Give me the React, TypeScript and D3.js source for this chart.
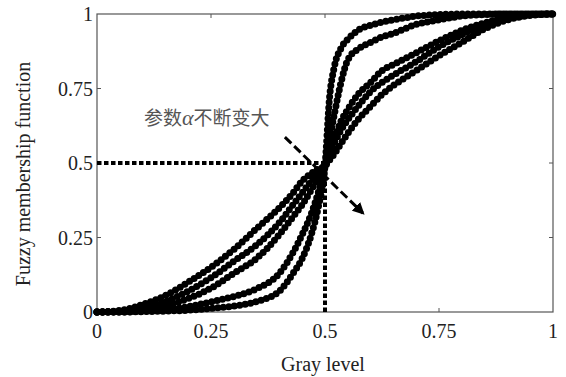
import {useEffect, useRef} from "react";
import * as d3 from "d3";

// gray level samples shared by every curve
const grayLevels = [0, 0.05, 0.1, 0.15, 0.2, 0.25, 0.3, 0.35, 0.4, 0.43, 0.45, 0.47, 0.485, 0.5,
    0.51, 0.52, 0.535, 0.55, 0.575, 0.6, 0.625, 0.65, 0.7, 0.75, 0.8, 0.85, 0.9, 0.95, 1];

// membership values, alpha growing from curveA to curveE
const curveA = [0, 0.005, 0.025, 0.055, 0.1, 0.15, 0.21, 0.28, 0.35, 0.4, 0.44, 0.465, 0.48, 0.49,
    0.51, 0.53, 0.565, 0.6, 0.65, 0.69, 0.73, 0.76, 0.81, 0.86, 0.905, 0.95, 0.98, 0.995, 1];
const curveB = [0, 0.002, 0.012, 0.035, 0.07, 0.115, 0.17, 0.225, 0.3, 0.36, 0.4, 0.44, 0.465, 0.49,
    0.53, 0.565, 0.61, 0.645, 0.695, 0.74, 0.77, 0.795, 0.84, 0.89, 0.93, 0.965, 0.985, 0.997, 1];
const curveC = [0, 0.001, 0.005, 0.02, 0.045, 0.08, 0.13, 0.18, 0.26, 0.32, 0.36, 0.41, 0.45, 0.49,
    0.54, 0.58, 0.64, 0.68, 0.735, 0.77, 0.81, 0.83, 0.87, 0.91, 0.945, 0.97, 0.99, 0.998, 1];
const curveD = [0, 0, 0.003, 0.008, 0.018, 0.034, 0.052, 0.078, 0.13, 0.2, 0.26, 0.33, 0.4, 0.49,
    0.58, 0.66, 0.77, 0.846, 0.885, 0.905, 0.923, 0.935, 0.965, 0.98, 0.993, 0.998, 1, 1, 1];
const curveE = [0, 0, 0.001, 0.003, 0.006, 0.012, 0.02, 0.035, 0.07, 0.13, 0.18, 0.26, 0.35, 0.49,
    0.72, 0.82, 0.885, 0.915, 0.948, 0.962, 0.973, 0.98, 0.993, 0.998, 1, 1, 1, 1, 1];

const series = [curveA, curveB, curveC, curveD, curveE];
const tickValues = [0, 0.25, 0.5, 0.75, 1];
const tickLabels = ["0", "0.25", "0.5", "0.75", "1"];

// annotation: crossing guide and the arrow (data coords)
const guidePoint = [0.5, 0.5];
const arrowFrom = [0.412, 0.587];
const arrowTo = [0.583, 0.332];

export default function App() {
    const ref = useRef<SVGSVGElement>(null);

    useEffect(() => {
        const svg = d3.select(ref.current);
        svg.selectAll("*").remove();

        const width = 566, height = 377;
        const left = 97, right = 553, top = 14, bottom = 312;
        svg.attr("width", width).attr("height", height);

        const x = d3.scaleLinear().domain([0, 1]).range([left, right]);
        const y = d3.scaleLinear().domain([0, 1]).range([bottom, top]);

        const defs = svg.append("defs");
        defs.append("marker")
            .attr("id", "head")
            .attr("viewBox", "0 0 10 10")
            .attr("refX", 8).attr("refY", 5)
            .attr("markerWidth", 4).attr("markerHeight", 4)
            .attr("orient", "auto")
            .append("path").attr("d", "M0,0 L10,5 L0,10 z").attr("fill", "#000");

        // frame
        svg.append("rect")
            .attr("x", left).attr("y", top)
            .attr("width", right - left).attr("height", bottom - top)
            .attr("fill", "none").attr("stroke", "#555").attr("stroke-width", 1.2);

        // inward ticks on all four sides
        const tk = 4;
        tickValues.slice(1, -1).forEach(v => {
            svg.append("line").attr("x1", x(v)).attr("x2", x(v)).attr("y1", bottom).attr("y2", bottom - tk).attr("stroke", "#555");
            svg.append("line").attr("x1", x(v)).attr("x2", x(v)).attr("y1", top).attr("y2", top + tk).attr("stroke", "#555");
            svg.append("line").attr("x1", left).attr("x2", left + tk).attr("y1", y(v)).attr("y2", y(v)).attr("stroke", "#555");
            svg.append("line").attr("x1", right).attr("x2", right - tk).attr("y1", y(v)).attr("y2", y(v)).attr("stroke", "#555");
        });

        const font = "'Liberation Serif', 'Times New Roman', serif";
        tickValues.forEach((v, i) => {
            svg.append("text")
                .attr("x", x(v)).attr("y", bottom + 26)
                .attr("text-anchor", "middle")
                .attr("font-family", font).attr("font-size", 20).attr("fill", "#222")
                .text(tickLabels[i]);
            svg.append("text")
                .attr("x", left - 4).attr("y", y(v)).attr("dy", "0.35em")
                .attr("text-anchor", "end")
                .attr("font-family", font).attr("font-size", 20).attr("fill", "#222")
                .text(tickLabels[i]);
        });

        svg.append("text")
            .attr("x", 323).attr("y", 371)
            .attr("text-anchor", "middle")
            .attr("font-family", font).attr("font-size", 20).attr("fill", "#222")
            .text("Gray level");

        svg.append("text")
            .attr("transform", `translate(30,174) rotate(-90)`)
            .attr("text-anchor", "middle")
            .attr("font-family", font).attr("font-size", 20).attr("fill", "#222")
            .text("Fuzzy membership function");

        // dotted guides at 0.5
        const guide = {stroke: "#000", width: 4, dash: "4.5 2.5"};
        svg.append("line")
            .attr("x1", x(0)).attr("x2", x(guidePoint[0]))
            .attr("y1", y(guidePoint[1])).attr("y2", y(guidePoint[1]))
            .attr("stroke", guide.stroke).attr("stroke-width", guide.width).attr("stroke-dasharray", guide.dash);
        svg.append("line")
            .attr("x1", x(guidePoint[0])).attr("x2", x(guidePoint[0]))
            .attr("y1", y(0)).attr("y2", y(guidePoint[1]))
            .attr("stroke", guide.stroke).attr("stroke-width", guide.width).attr("stroke-dasharray", guide.dash);

        // curves drawn as chains of dots
        const line = d3.line<number>()
            .x((d, i) => x(grayLevels[i]))
            .y(d => y(d))
            .curve(d3.curveMonotoneX);

        const g = svg.append("g");
        series.forEach(s => {
            g.append("path").attr("d", line(s)).attr("fill", "none")
                .attr("stroke", "#000").attr("stroke-width", 3.5);
            g.append("path").attr("d", line(s)).attr("fill", "none")
                .attr("stroke", "#000").attr("stroke-width", 7)
                .attr("stroke-linecap", "round").attr("stroke-dasharray", "0 5.5");
        });

        // arrow
        svg.append("line")
            .attr("x1", x(arrowFrom[0])).attr("y1", y(arrowFrom[1]))
            .attr("x2", x(arrowTo[0])).attr("y2", y(arrowTo[1]))
            .attr("stroke", "#000").attr("stroke-width", 3)
            .attr("stroke-dasharray", "9 4")
            .attr("marker-end", "url(#head)");

        const label = svg.append("text")
            .attr("x", 144).attr("y", 125)
            .attr("font-family", "'Noto Sans CJK SC', sans-serif")
            .attr("font-size", 19).attr("fill", "#555");
        label.append("tspan").text("参数");
        label.append("tspan").attr("font-family", font).attr("font-style", "italic").attr("font-size", 22).text("α");
        label.append("tspan").text("不断变大");
    }, []);

    return <svg ref={ref} style={{position: "absolute", left: 0, top: 0}}></svg>;
}
